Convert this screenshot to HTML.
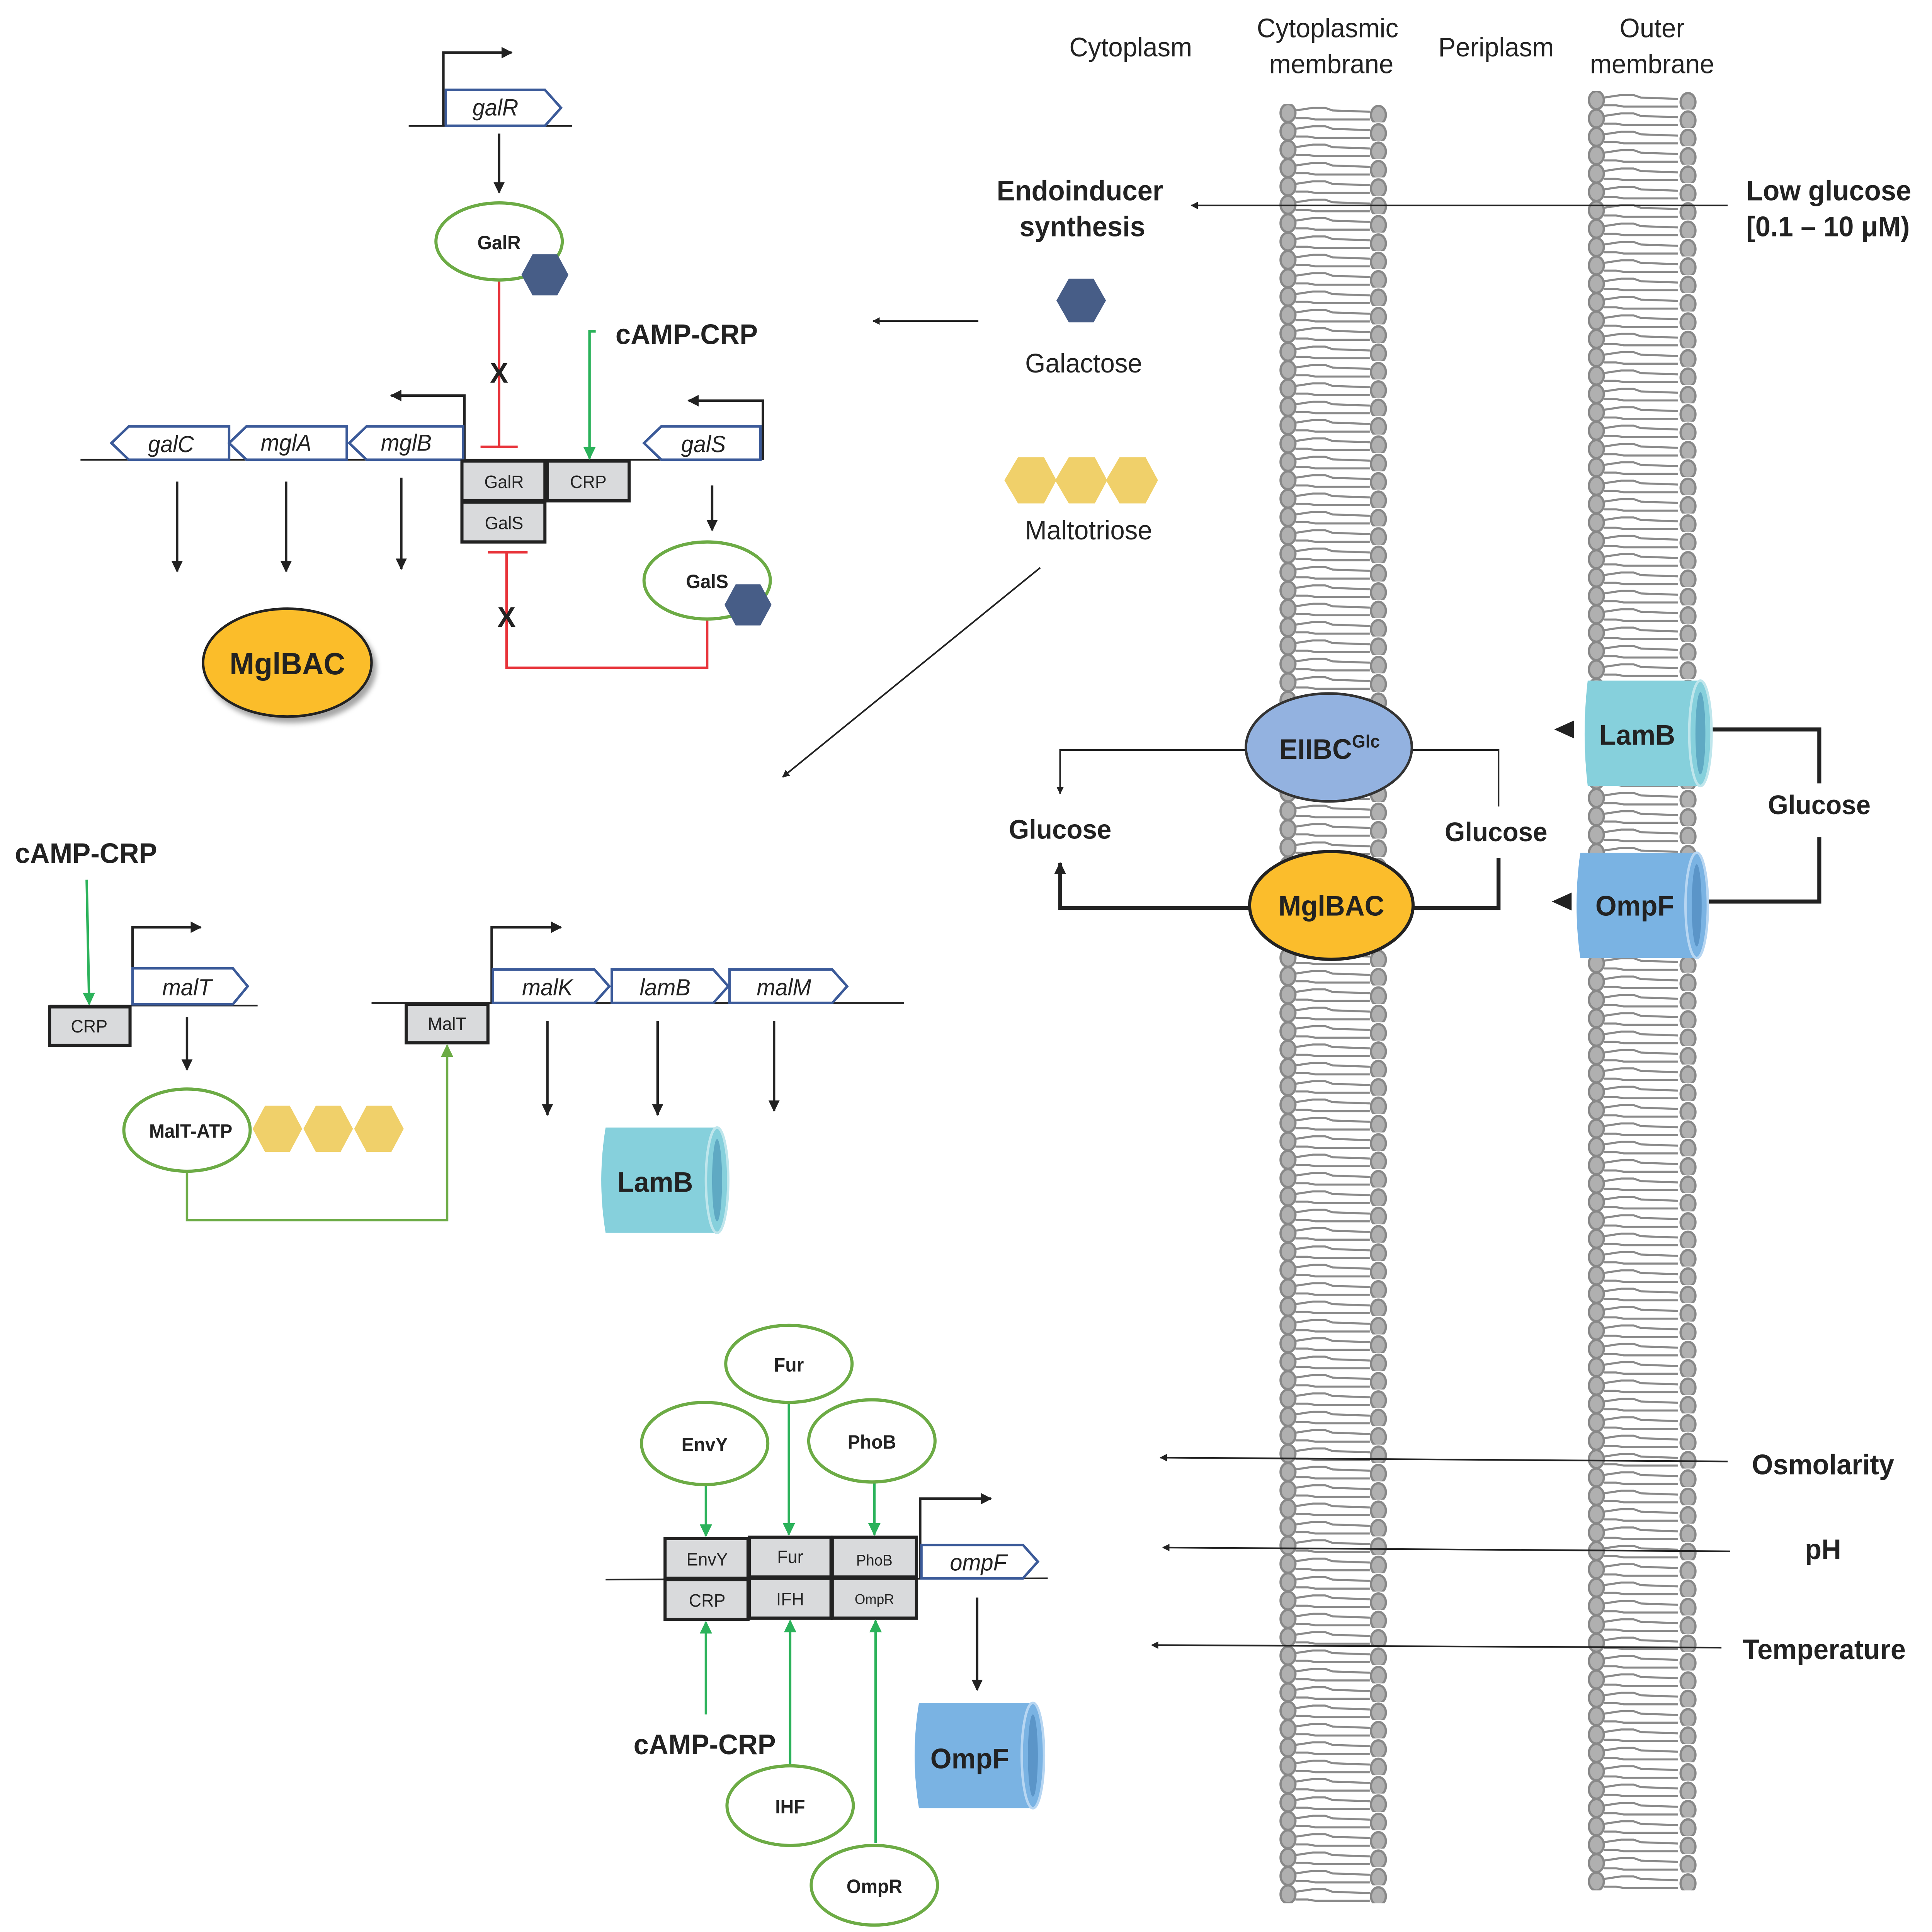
<!DOCTYPE html>
<html><head><meta charset="utf-8"><style>
html,body{margin:0;padding:0;background:#fff;overflow:hidden;width:100%;height:100%}
svg{display:block;width:100vw;height:100vh}
text{font-family:"Liberation Sans",sans-serif;fill:#222}
.b{font-weight:bold}
.i{font-style:italic}
</style></head><body>
<svg viewBox="0 0 1560 1504.4" preserveAspectRatio="none" xmlns="http://www.w3.org/2000/svg">
<defs>
<marker id="ak" viewBox="0 0 10 10" refX="9" refY="5" markerWidth="4.5" markerHeight="4.5" orient="auto"><path d="M0,0L10,5L0,10z" fill="#222"/></marker>
<marker id="ak2" viewBox="0 0 10 10" refX="9" refY="5" markerWidth="3" markerHeight="3" orient="auto"><path d="M0,0L10,5L0,10z" fill="#222"/></marker>
<marker id="ag" viewBox="0 0 10 10" refX="9" refY="5" markerWidth="5" markerHeight="5" orient="auto"><path d="M0,0L10,5L0,10z" fill="#2bb25a"/></marker>
<marker id="ag2" viewBox="0 0 10 10" refX="9" refY="5" markerWidth="5" markerHeight="5" orient="auto"><path d="M0,0L10,5L0,10z" fill="#6cab45"/></marker>
<pattern id="lip1" x="1030" y="81" width="100" height="14.3" patternUnits="userSpaceOnUse">
<path d="M16,5 L30,3 L40,3 L46,5 L76,6 M16,11 L26,11 L32,12 L76,12" stroke="#8a8a8a" stroke-width="1.6" fill="none"/>
<ellipse cx="10" cy="7" rx="6" ry="7" fill="#b0b0b0" stroke="#888" stroke-width="1.8"/>
<ellipse cx="83" cy="8.5" rx="6" ry="7" fill="#b0b0b0" stroke="#888" stroke-width="1.8"/>
</pattern>
<pattern id="lip2" x="1279" y="71" width="100" height="14.3" patternUnits="userSpaceOnUse">
<path d="M16,5 L30,3 L40,3 L46,5 L76,6 M16,11 L26,11 L32,12 L76,12" stroke="#8a8a8a" stroke-width="1.6" fill="none"/>
<ellipse cx="10" cy="7" rx="6" ry="7" fill="#b0b0b0" stroke="#888" stroke-width="1.8"/>
<ellipse cx="84" cy="8.5" rx="6" ry="7" fill="#b0b0b0" stroke="#888" stroke-width="1.8"/>
</pattern>
<filter id="sh" x="-20%" y="-20%" width="150%" height="150%"><feDropShadow dx="3" dy="4" stdDeviation="2" flood-color="#000" flood-opacity="0.35"/></filter>
</defs>

<rect x="1030" y="81" width="95" height="1401" fill="url(#lip1)"/>
<rect x="1279" y="71" width="95" height="1401" fill="url(#lip2)"/>

<g font-size="21" text-anchor="middle">
<text x="913" y="44">Cytoplasm</text>
<text x="1072" y="29">Cytoplasmic</text><text x="1075" y="57">membrane</text>
<text x="1208" y="44">Periplasm</text>
<text x="1334" y="29">Outer</text><text x="1334" y="57">membrane</text>
</g>

<g font-size="22">
<text x="872" y="156" text-anchor="middle" class="b">Endoinducer</text>
<text x="874" y="184" text-anchor="middle" class="b">synthesis</text>
<text x="1410" y="156" class="b">Low glucose</text>
<text x="1410" y="184" class="b">[0.1 – 10 μM)</text>
<text x="1472" y="1148" text-anchor="middle" class="b">Osmolarity</text>
<text x="1472" y="1214" text-anchor="middle" class="b">pH</text>
<text x="1473" y="1292" text-anchor="middle" class="b">Temperature</text>
</g>
<g stroke="#222" stroke-width="1.3" fill="none" marker-end="url(#ak)">
<path d="M1395,160 L962,160"/>
<path d="M1395,1138 L937,1135"/>
<path d="M1397,1208 L939,1205"/>
<path d="M1390,1283 L930,1281"/>
<path d="M790,250 L705,250"/>
<path d="M840,442 L632,605"/>
</g>

<polygon points="853,234 863,217 883,217 893,234 883,251 863,251" fill="#475d87"/>
<text x="875" y="290" font-size="21" text-anchor="middle">Galactose</text>
<g fill="#f0d06a">
<polygon points="811,374 822,356 843,356 853,374 843,392 822,392"/>
<polygon points="852,374 863,356 884,356 894,374 884,392 863,392"/>
<polygon points="893,374 904,356 925,356 935,374 925,392 904,392"/>
</g>
<text x="879" y="420" font-size="21" text-anchor="middle">Maltotriose</text>

<g stroke="#222" stroke-width="1.3" fill="none">
<path d="M1006,584 L856,584 L856,618" marker-end="url(#ak)"/>
<path d="M1140,584 L1210,584 L1210,628"/>
</g>
<g stroke="#222" stroke-width="3.2" fill="none">
<path d="M1010,707 L856,707 L856,672" marker-end="url(#ak2)"/>
<path d="M1140,707 L1210,707 L1210,668"/>
<path d="M1372,568 L1469,568 L1469,610"/>
<path d="M1469,652 L1469,702 L1372,702"/>
</g>
<ellipse cx="1073" cy="582" rx="67" ry="42" fill="#93b2e0" stroke="#333" stroke-width="2"/>
<text x="1033" y="591" font-size="22" class="b">EIIBC<tspan font-size="14" dy="-9">Glc</tspan></text>
<ellipse cx="1075" cy="705" rx="66" ry="42" fill="#fbbd2c" stroke="#222" stroke-width="2.5"/>
<text x="1075" y="713" font-size="22" class="b" text-anchor="middle">MglBAC</text>
<text x="856" y="653" font-size="21" class="b" text-anchor="middle">Glucose</text>
<text x="1208" y="655" font-size="21" class="b" text-anchor="middle">Glucose</text>
<text x="1469" y="634" font-size="21" class="b" text-anchor="middle">Glucose</text>

<path d="M1282,530 L1372,530 L1372,612 L1282,612 Q1277,571 1282,530z" fill="#86d0dc"/>
<ellipse cx="1373" cy="571" rx="9" ry="41" fill="#86d0dc" stroke="#bfe6ec" stroke-width="2"/>
<ellipse cx="1373" cy="571" rx="4" ry="32" fill="#5fa9c3"/>
<text x="1322" y="580" font-size="22" class="b" text-anchor="middle">LamB</text>
<path d="M1276,664 L1369,664 L1369,746 L1276,746 Q1270,705 1276,664z" fill="#7ab3e3"/>
<ellipse cx="1370" cy="705" rx="9" ry="41" fill="#7ab3e3" stroke="#b7d6f2" stroke-width="2"/>
<ellipse cx="1370" cy="705" rx="4" ry="32" fill="#5b95c8"/>
<text x="1320" y="713" font-size="22" class="b" text-anchor="middle">OmpF</text>
<polygon points="1255,568 1271,561 1271,575" fill="#222"/>
<polygon points="1253,702 1269,695 1269,709" fill="#222"/>

<g stroke="#222" stroke-width="1.3" fill="none">
<path d="M330,98 L462,98"/>
<path d="M65,358 L615,358"/>
<path d="M40,783 L208,783"/>
<path d="M300,781 L730,781"/>
<path d="M489,1230 L846,1229"/>
</g>
<g stroke="#222" stroke-width="2" fill="none" marker-end="url(#ak)">
<path d="M358,98 L358,41 L413,41"/>
<path d="M375,358 L375,308 L316,308"/>
<path d="M616,358 L616,312 L556,312"/>
<path d="M107,783 L107,722 L162,722"/>
<path d="M397,781 L397,722 L453,722"/>
<path d="M743,1229 L743,1167 L800,1167"/>
<path d="M403,104 L403,150"/>
<path d="M143,375 L143,445"/>
<path d="M231,375 L231,445"/>
<path d="M324,372 L324,443"/>
<path d="M575,378 L575,413"/>
<path d="M151,792 L151,833"/>
<path d="M442,795 L442,868"/>
<path d="M531,795 L531,868"/>
<path d="M625,795 L625,865"/>
<path d="M789,1244 L789,1316"/>
</g>

<g fill="#fff" stroke="#3b5a99" stroke-width="2">
<path d="M360,70 L440,70 L453,84 L440,98 L360,98z"/>
<path d="M104,332 L185,332 L185,358 L104,358 L90,345z"/>
<path d="M199,332 L280,332 L280,358 L199,358 L185,345z"/>
<path d="M296,332 L374,332 L374,358 L296,358 L282,345z"/>
<path d="M534,332 L614,332 L614,358 L534,358 L520,345z"/>
<path d="M107,754 L188,754 L200,768 L188,782 L107,782z"/>
<path d="M398,755 L480,755 L492,768 L480,781 L398,781z"/>
<path d="M494,755 L576,755 L588,768 L576,781 L494,781z"/>
<path d="M589,755 L672,755 L684,768 L672,781 L589,781z"/>
<path d="M744,1203 L826,1203 L838,1216 L826,1229 L744,1229z"/>
</g>
<g font-size="18" text-anchor="middle">
<text x="400" y="90" class="i">galR</text>
<text x="138" y="352" class="i">galC</text>
<text x="231" y="351" class="i">mglA</text>
<text x="328" y="351" class="i">mglB</text>
<text x="568" y="352" class="i">galS</text>
<text x="151" y="775" class="i">malT</text>
<text x="442" y="775" class="i">malK</text>
<text x="537" y="775" class="i">lamB</text>
<text x="633" y="775" class="i">malM</text>
<text x="790" y="1223" class="i">ompF</text>
</g>

<g fill="#d9dadc" stroke="#222" stroke-width="2.5">
<rect x="373" y="359" width="67" height="31"/>
<rect x="442" y="359" width="66" height="31"/>
<rect x="373" y="391" width="67" height="31"/>
<rect x="40" y="784" width="65" height="30"/>
<rect x="328" y="782" width="66" height="30"/>
<rect x="537" y="1198" width="67" height="31"/>
<rect x="605" y="1197" width="66" height="31"/>
<rect x="672" y="1197" width="68" height="31"/>
<rect x="537" y="1230" width="67" height="31"/>
<rect x="605" y="1229" width="66" height="31"/>
<rect x="672" y="1229" width="68" height="31"/>
</g>
<g font-size="14" text-anchor="middle">
<text x="407" y="380">GalR</text>
<text x="475" y="380">CRP</text>
<text x="407" y="412">GalS</text>
<text x="72" y="804">CRP</text>
<text x="361" y="802">MalT</text>
<text x="571" y="1219">EnvY</text>
<text x="638" y="1217">Fur</text>
<text x="706" y="1219" font-size="12">PhoB</text>
<text x="571" y="1251">CRP</text>
<text x="638" y="1250">IFH</text>
<text x="706" y="1249" font-size="11">OmpR</text>
</g>

<g stroke="#e8333a" stroke-width="2" fill="none">
<path d="M403,218 L403,348 M388,348 L418,348"/>
<path d="M571,482 L571,520 L409,520 L409,430 M394,430 L426,430"/>
</g>
<text x="403" y="298" font-size="22" class="b" text-anchor="middle">X</text>
<text x="409" y="488" font-size="22" class="b" text-anchor="middle">X</text>

<g stroke="#2bb25a" stroke-width="2" fill="none" marker-end="url(#ag)">
<path d="M481,258 L476,258 L476,357"/>
<path d="M70,685 L72,782"/>
<path d="M570,1155 L570,1196"/>
<path d="M637,1092 L637,1195"/>
<path d="M706,1153 L706,1195"/>
<path d="M570,1335 L570,1263"/>
<path d="M638,1375 L638,1262"/>
<path d="M707,1435 L707,1262"/>
</g>
<path d="M151,912 L151,950 L361,950 L361,814" stroke="#6cab45" stroke-width="2" fill="none" marker-end="url(#ag2)"/>

<g fill="#fff" stroke="#6cab45" stroke-width="2.5">
<ellipse cx="403" cy="188" rx="51" ry="30"/>
<ellipse cx="571" cy="452" rx="51" ry="30"/>
<ellipse cx="151" cy="880" rx="51" ry="32"/>
<ellipse cx="637" cy="1062" rx="51" ry="30"/>
<ellipse cx="569" cy="1124" rx="51" ry="32"/>
<ellipse cx="704" cy="1122" rx="51" ry="32"/>
<ellipse cx="638" cy="1406" rx="51" ry="31"/>
<ellipse cx="706" cy="1468" rx="51" ry="31"/>
</g>
<g fill="#475d87">
<polygon points="421,214 430,198 450,198 459,214 450,230 430,230"/>
<polygon points="585,471 594,455 614,455 623,471 614,487 594,487"/>
</g>
<g fill="#f0d06a">
<polygon points="204,879 214,861 234,861 244,879 234,897 214,897"/>
<polygon points="245,879 255,861 275,861 285,879 275,897 255,897"/>
<polygon points="286,879 296,861 316,861 326,879 316,897 296,897"/>
</g>
<g font-size="15" text-anchor="middle">
<text x="403" y="194" class="b">GalR</text>
<text x="571" y="458" class="b">GalS</text>
<text x="154" y="886" class="b">MalT-ATP</text>
<text x="637" y="1068" class="b">Fur</text>
<text x="569" y="1130" class="b">EnvY</text>
<text x="704" y="1128" class="b">PhoB</text>
<text x="638" y="1412" class="b">IHF</text>
<text x="706" y="1474" class="b">OmpR</text>
</g>

<text x="497" y="268" font-size="22" class="b">cAMP-CRP</text>
<text x="12" y="672" font-size="22" class="b">cAMP-CRP</text>
<text x="569" y="1366" font-size="22" class="b" text-anchor="middle">cAMP-CRP</text>

<ellipse cx="232" cy="516" rx="68" ry="42" fill="#fbbd2c" stroke="#222" stroke-width="2" filter="url(#sh)"/>
<text x="232" y="525" font-size="24" class="b" text-anchor="middle">MglBAC</text>

<path d="M489,878 L578,878 L578,960 L489,960 Q482,919 489,878z" fill="#86d0dc"/>
<ellipse cx="579" cy="919" rx="9" ry="41" fill="#86d0dc" stroke="#bfe6ec" stroke-width="2"/>
<ellipse cx="579" cy="919" rx="4" ry="32" fill="#5fa9c3"/>
<text x="529" y="928" font-size="22" class="b" text-anchor="middle">LamB</text>

<path d="M742,1326 L833,1326 L833,1408 L742,1408 Q735,1367 742,1326z" fill="#7ab3e3"/>
<ellipse cx="834" cy="1367" rx="9" ry="41" fill="#7ab3e3" stroke="#b7d6f2" stroke-width="2"/>
<ellipse cx="834" cy="1367" rx="4" ry="32" fill="#5b95c8"/>
<text x="783" y="1377" font-size="22" class="b" text-anchor="middle">OmpF</text>
</svg>
</body></html>
